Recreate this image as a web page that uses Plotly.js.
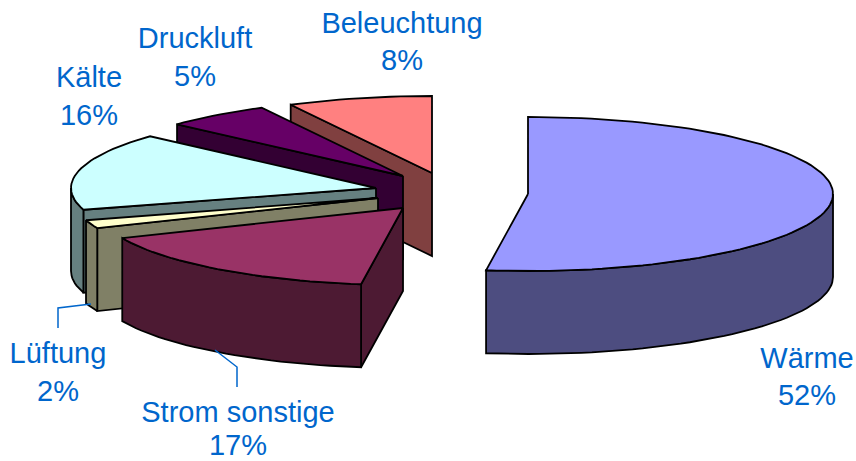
<!DOCTYPE html>
<html>
<head>
<meta charset="utf-8">
<script src="https://cdn.plot.ly/plotly-3.0.1.min.js"></script>
<style>html,body{margin:0;padding:0;background:#fff}#c{width:856px;height:461px}</style>
</head>
<body>
<div id="c"></div>
<script>
// Data, clockwise from 12 o'clock
const categories = ['Wärme', 'Strom sonstige', 'Lüftung', 'Kälte', 'Druckluft', 'Beleuchtung'];
const shares = [52, 17, 2, 16, 5, 8];
const pctLabels = ['52%', '17%', '2%', '16%', '5%', '8%'];
const topColors = ['#9999FF', '#993366', '#FFFFCC', '#CCFFFF', '#660066', '#FF8080'];
const sideColors = ['#4D4D80', '#4D1A33', '#808066', '#668080', '#330033', '#804040'];

// Projection of the tilted disc and where each exploded slice sits
const radiusX = 305, radiusY = 77, depth = 83;
const apexX = [528, 403, 378, 376, 403, 432];
const apexY = [194, 208, 198, 188, 176, 173];
const drawOrder = [5, 4, 3, 2, 1, 0];
// Perspective skew of each slice's start / end direction, in degrees
const startSkew = [0, 0.7, -1.4, -2, -1, 1.2];
const endSkew = [0.7, -1.4, -2.4, -1, 1.2, 0];

// Label placement
const labelX = [807, 238, 58, 89, 195, 402];
const nameY = [361, 415, 356, 80, 41, 26];
const pctY = [398, 448, 394, 118, 79, 63];
const leaders = [
  {x: [58, 58, 91], y: [328, 308, 304]},
  {x: [237, 237, 215], y: [387, 367, 350]}
];

const traces = [];
const rad = d => d * Math.PI / 180;
function pt(i, deg) {
  return [apexX[i] + radiusX * Math.sin(rad(deg)), apexY[i] - radiusY * Math.cos(rad(deg))];
}
function arc(i, a, b) {
  const out = [], n = Math.max(1, Math.ceil((b - a) / 2));
  for (let k = 0; k <= n; k++) out.push(pt(i, a + (b - a) * k / n));
  return out;
}
function poly(points, fill) {
  const x = points.map(p => p[0]), y = points.map(p => p[1]);
  x.push(x[0]); y.push(y[0]);
  traces.push({
    type: 'scatter', mode: 'lines', x, y, fill: 'toself', fillcolor: fill,
    line: {color: '#000', width: 1.8, shape: 'linear'}, hoverinfo: 'skip', showlegend: false
  });
}
function wall(a, b, fill) {
  poly([a, b, [b[0], b[1] + depth], [a[0], a[1] + depth]], fill);
}

const total = shares.reduce((s, v) => s + v, 0);
const starts = [];
shares.reduce((acc, v, i) => { starts[i] = acc; return acc + v; }, 0);

drawOrder.forEach(i => {
  const a0 = starts[i] / total * 360 + startSkew[i];
  const a1 = (starts[i] + shares[i]) / total * 360 + endSkew[i];
  const apex = [apexX[i], apexY[i]];
  if (Math.sin(rad(a0)) < -1e-6) wall(apex, pt(i, a0), sideColors[i]);
  if (Math.sin(rad(a1)) > 1e-6) wall(pt(i, a1), apex, sideColors[i]);
  const lo = Math.max(a0, 90), hi = Math.min(a1, 270);
  if (hi > lo) {
    const front = arc(i, lo, hi);
    const down = front.map(p => [p[0], p[1] + depth]).reverse();
    poly(front.concat(down), sideColors[i]);
  }
  poly([apex].concat(arc(i, a0, a1)), topColors[i]);
});

leaders.forEach(l => traces.push({
  type: 'scatter', mode: 'lines', x: l.x, y: l.y,
  line: {color: '#0066CC', width: 1.5}, hoverinfo: 'skip', showlegend: false
}));

traces.push({
  type: 'scatter', mode: 'text',
  x: labelX.concat(labelX), y: nameY.concat(pctY),
  text: categories.concat(pctLabels),
  textposition: 'middle center', cliponaxis: false,
  textfont: {family: 'Liberation Sans, Arial, sans-serif', size: 29, color: '#0066CC'},
  hoverinfo: 'skip', showlegend: false
});

Plotly.newPlot('c', traces, {
  width: 856, height: 461,
  margin: {l: 0, r: 0, t: 0, b: 0},
  paper_bgcolor: '#fff', plot_bgcolor: '#fff',
  xaxis: {range: [0, 856], visible: false, fixedrange: true},
  yaxis: {range: [461, 0], visible: false, fixedrange: true},
  showlegend: false
}, {displayModeBar: false, staticPlot: true});
</script>
</body>
</html>
